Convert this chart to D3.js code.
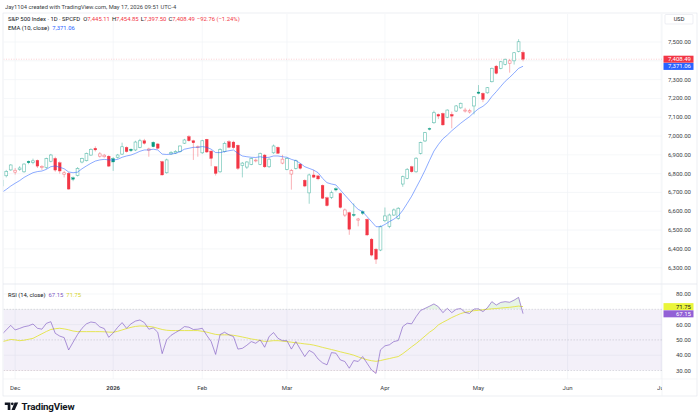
<!DOCTYPE html>
<html>
<head>
<meta charset="utf-8">
<script src="https://cdn.jsdelivr.net/npm/d3@7"></script>
<style>
body{margin:0;background:#fff}
svg{display:block;font-family:Roboto,"Liberation Sans",sans-serif}
</style>
</head>
<body>
<svg width="700" height="420"></svg>
<script>
// trading calendar (categories)
var firstDay = "2025-11-25", lastDay = "2026-07-03";
var holidays = ["2025-11-27","2025-12-25","2026-01-01","2026-01-19","2026-02-16","2026-04-03","2026-05-25","2026-06-19"];
var monthTicks = [
  {day:"2025-12-01", label:"Dec"}, {day:"2026-01-01", label:"2026", bold:true},
  {day:"2026-02-01", label:"Feb"}, {day:"2026-03-01", label:"Mar"},
  {day:"2026-04-01", label:"Apr"}, {day:"2026-05-01", label:"May"},
  {day:"2026-06-01", label:"Jun"}, {day:"2026-07-01", label:"Jul"}
];
var priceTicks = [6200,6300,6400,6500,6600,6700,6800,6900,7000,7100,7200,7300,7400,7500];
var rsiTicks = [30,40,50,60,70,80];

// daily bars, Nov 25 2025 .. May 15 2026
var open = [6735,6789,6820,6808,6822,6810,6866,6860,6871,6832,
  6832,6866,6881,6858,6797,6802,6778,6790,6862,6869,
  6899,6935,6893,6890,6893,6880,6887,6904,6940,6930,
  6926,6940,6975,6925,6967,6958,6864,6805,6905,6910,
  6917,6962,6997,6975,6940,6911,6983,6920,6837,6810,
  6917,6970,6968,6951,6843,6835,6849,6868,6849,6899,
  6837,6911,6940,6856,6823,6798,6828,6851,6765,6698,
  6793,6788,6738,6672,6674,6720,6695,6580,6593,6583,
  6553,6598,6557,6452,6398,6394,6550,6520,6580,6562,
  6745,6775,6837,6810,6908,6974,7040,7071,7115,7120,
  7100,7115,7133,7150,7133,7128,7160,7234,7227,7230,
  7289,7372,7360,7381,7387,7400,7450,7445.11];
var high = [6780,6820,6850,6830,6840,6855,6870,6880,6875,6845,
  6885,6905,6890,6865,6815,6808,6785,6835,6885,6912,
  6935,6945,6915,6905,6898,6888,6905,6965,6945,6935,
  6975,6985,6985,6938,6972,6962,6868,6880,6920,6925,
  6950,6985,7005,6980,6950,6980,6985,6925,6840,6935,
  6970,6978,6975,6955,6862,6866,6885,6880,6912,6905,
  6882,6955,6945,6900,6885,6825,6875,6856,6770,6800,
  6820,6795,6742,6678,6710,6728,6700,6615,6598,6642,
  6565,6605,6562,6458,6405,6525,6620,6588,6615,6622,
  6790,6830,6842,6888,6970,7022,7045,7135,7120,7125,
  7142,7130,7165,7178,7150,7145,7212,7271,7232,7260,
  7364,7378,7398,7412,7410,7446,7515,7454.85];
var low = [6720,6780,6815,6795,6815,6805,6850,6850,6830,6820,
  6825,6860,6810,6800,6780,6715,6760,6785,6855,6865,
  6895,6918,6885,6885,6835,6815,6880,6900,6912,6915,
  6920,6935,6955,6890,6940,6930,6790,6800,6900,6905,
  6912,6958,6970,6873,6890,6905,6910,6840,6790,6805,
  6912,6935,6932,6820,6780,6825,6845,6860,6845,6830,
  6830,6905,6905,6850,6818,6715,6822,6822,6728,6640,
  6776,6765,6665,6625,6665,6705,6615,6570,6475,6570,
  6520,6580,6468,6360,6320,6388,6542,6510,6575,6555,
  6730,6770,6805,6805,6902,6968,7030,7065,7090,7055,
  7095,7041,7128,7145,7125,7120,7115,7222,7180,7225,
  7285,7328,7355,7376,7337,7380,7445,7397.50];
var close = [6765,6812,6846,6818,6830,6851,6858,6868,6840,6838,
  6880,6899,6819,6814,6805,6718,6770,6828,6880,6908,
  6929,6926,6905,6898,6840,6862,6899,6943,6917,6922,
  6968,6975,6961,6931,6943,6935,6793,6873,6912,6918,
  6947,6979,6975,6964,6943,6975,6915,6881,6801,6929,
  6961,6940,6938,6828,6856,6862,6880,6872,6908,6836,
  6877,6947,6908,6877,6880,6816,6869,6828,6734,6793,
  6781,6772,6669,6630,6699,6713,6620,6607,6504,6578,
  6559,6589,6474,6367,6345,6518,6575,6580,6607,6616,
  6784,6823,6810,6882,6965,7018,7036,7124,7106,7059,
  7138,7106,7160,7174,7138,7135,7209,7227,7195,7257,
  7360,7333,7395,7408,7400,7443,7501.25,7408.49];
var ema10 = [6700,6716,6734,6749,6763,6780,6793,6805,6811,6814,
  6823,6837,6841,6834,6826,6809,6805,6808,6826,6841,
  6855,6867,6873,6876,6873,6872,6876,6887,6894,6899,
  6908,6919,6926,6926,6930,6926,6904,6902,6904,6908,
  6917,6930,6935,6940,6940,6944,6940,6930,6912,6912,
  6917,6922,6926,6908,6894,6890,6887,6886,6890,6885,
  6887,6894,6894,6890,6887,6876,6869,6855,6837,6828,
  6819,6805,6775,6752,6745,6740,6713,6686,6660,6633,
  6610,6598,6571,6545,6518,6518,6530,6545,6558,6575,
  6605,6642,6680,6725,6770,6818,6870,6920,6955,6985,
  7005,7028,7048,7068,7086,7103,7125,7145,7158,7178,
  7210,7236,7264,7291,7312,7335,7360,7371.06];
var rsi14 = [53.5,56.5,59.5,56.5,57.5,58.6,59.2,60.4,57.6,57,
  60.8,61.9,54.3,52.5,51.5,43.4,48.5,53.5,57.6,60.5,
  61.7,61.2,58.5,57.4,51.7,54.5,58.2,61.3,57.6,60.5,
  62.3,63,61.3,57,57.8,55,41,50,53,54.8,
  56.5,58.7,58.3,56.8,57,57.6,53,48.9,40.5,53.5,
  55,53.3,52.2,44,44.5,46.5,48.9,47.8,50,45.2,
  52.2,54.8,51,49.5,49.5,44,48.9,43.9,39.1,43.1,
  41.5,37.5,35,33.7,41.7,41.3,36.9,35.9,31.5,36.5,
  35.9,39.1,34.7,30.3,28.1,43.5,46.1,46.8,48.9,49.6,
  58.7,60.9,60.5,65.2,69.2,70.6,72,73.5,71.7,67.8,
  70.6,67.8,70,70.5,68,67.3,70.2,70.3,68.5,71,
  75,72.8,74.5,75,74.6,76,77.8,67.15];
var rsiMa = [48.8,49.5,50.3,50.0,49.5,49.8,50.4,51.0,52.5,54.0,
  55.5,56.8,57.3,57.6,57.2,56.6,55.8,55.4,55.4,55.4,
  55.4,55.4,55.4,55.3,55.1,55.0,55.6,56.5,57.4,58.2,
  58.8,59.1,59.0,58.8,58.4,57.6,56.8,56.3,56.1,56.1,
  56.1,56.1,56.1,56.1,56.1,55.6,55.1,54.3,53.6,53.3,
  53.3,53.3,53.0,52.5,51.9,51.3,50.6,50.2,49.6,49.0,
  49.2,49.5,49.5,49.2,48.9,48.5,48.1,47.8,47.4,47.1,
  46.6,45.9,45.1,44.4,43.7,43.0,42.2,41.5,40.8,40.0,
  38.9,37.9,37.0,36.4,36.0,36.5,37.2,37.8,38.5,39.1,
  41.0,43.2,45.5,47.6,50.0,52.5,55.0,57.0,59.8,61.5,
  63.0,64.6,65.9,67.2,68.0,68.6,69.1,69.3,69.7,70.0,
  70.3,70.5,70.8,71.1,71.3,71.7,72.1,71.75];

var UP = "#089981", DOWN = "#f23645", EMA_C = "#2962ff", RSI_C = "#7e57c2", MA_C = "#e3e342";
var TXT = "#131722", GRID = "#f1f3f7", BORDER = "#e0e3eb";

var fmtDay = d3.utcFormat("%Y-%m-%d"), parseDay = d3.utcParse("%Y-%m-%d");
var days = d3.utcDay.range(parseDay(firstDay), d3.utcDay.offset(parseDay(lastDay), 1))
  .filter(d => d.getUTCDay() % 6 !== 0 && holidays.indexOf(fmtDay(d)) < 0)
  .map(fmtDay);

var plotL = 3.5, plotR = 662, mainTop = 14, mainBot = 283.5, rsiTop = 284.5, rsiBot = 379;
var step = 4.455;

var x = d3.scaleLinear().domain([0, days.length - 1]).range([1.8, 1.8 + step * (days.length - 1)]);
var y = d3.scaleLinear().domain([6300, 7500]).range([267.7, 42]);
var yr = d3.scaleLinear().domain([30, 80]).range([370.5, 294]);

var bars = close.map((c, i) => ({
  i: i, o: open[i], h: high[i], l: low[i], c: c, e: ema10[i], r: rsi14[i], m: rsiMa[i],
  prev: i > 0 ? close[i - 1] : open[i]
}));
var last = bars[bars.length - 1];

var svg = d3.select("svg");
var defs = svg.append("defs");
defs.append("clipPath").attr("id", "clipMain").append("rect")
  .attr("x", plotL).attr("y", mainTop).attr("width", plotR - plotL).attr("height", mainBot - mainTop);
defs.append("clipPath").attr("id", "clipRsi").append("rect")
  .attr("x", plotL).attr("y", rsiTop).attr("width", plotR - plotL).attr("height", rsiBot - rsiTop);
defs.append("clipPath").attr("id", "clipOb").append("rect")
  .attr("x", plotL).attr("y", rsiTop).attr("width", plotR - plotL).attr("height", yr(70) - rsiTop);
defs.append("clipPath").attr("id", "clipOs").append("rect")
  .attr("x", plotL).attr("y", yr(30)).attr("width", plotR - plotL).attr("height", rsiBot - yr(30));
defs.append("clipPath").attr("id", "clipAxis").append("rect")
  .attr("x", plotR).attr("y", mainTop).attr("width", 700 - plotR).attr("height", mainBot - mainTop + 1);
defs.append("clipPath").attr("id", "clipTime").append("rect")
  .attr("x", plotL).attr("y", rsiBot).attr("width", plotR - plotL).attr("height", 17);

// header
svg.append("text").attr("x", 5).attr("y", 8.5).attr("font-size", 5.8).attr("fill", TXT).attr("opacity", 0.85)
  .text("Jay1104 created with TradingView.com, May 17, 2026 09:51 UTC-4");

// frame
svg.append("rect").attr("x", 3).attr("y", 13).attr("width", 694).attr("height", 383)
  .attr("fill", "none").attr("stroke", BORDER).attr("stroke-width", 0.6);

// month positions
var ticks = monthTicks.map(t => {
  var idx = days.findIndex(d => d >= t.day);
  return Object.assign({x: x(idx)}, t);
});

// grid
var grid = svg.append("g").attr("stroke", GRID).attr("stroke-width", 0.7);
grid.selectAll(".v").data(ticks).join("line")
  .attr("x1", d => d.x).attr("x2", d => d.x).attr("y1", mainTop).attr("y2", rsiBot);
grid.append("g").attr("clip-path", "url(#clipMain)").selectAll("line").data(priceTicks).join("line")
  .attr("x1", plotL).attr("x2", plotR).attr("y1", d => y(d)).attr("y2", d => y(d));
grid.selectAll(".r").data([40, 60, 80]).join("line")
  .attr("x1", plotL).attr("x2", plotR).attr("y1", d => yr(d)).attr("y2", d => yr(d));

// pane separators
svg.append("line").attr("x1", 3).attr("x2", 697).attr("y1", 284).attr("y2", 284)
  .attr("stroke", BORDER).attr("stroke-width", 0.7);
svg.append("line").attr("x1", plotR).attr("x2", plotR).attr("y1", mainTop).attr("y2", 396)
  .attr("stroke", "#eef0f4").attr("stroke-width", 0.7);
svg.append("line").attr("x1", 3).attr("x2", 697).attr("y1", rsiBot).attr("y2", rsiBot)
  .attr("stroke", "#eef0f4").attr("stroke-width", 0.6);

// main pane
var main = svg.append("g").attr("clip-path", "url(#clipMain)");

main.append("line").attr("x1", plotL).attr("x2", plotR).attr("y1", y(last.c)).attr("y2", y(last.c))
  .attr("stroke", DOWN).attr("stroke-opacity", 0.4).attr("stroke-width", 0.6).attr("stroke-dasharray", "1,1.5");

var candle = main.selectAll(".candle").data(bars).join("g").attr("class", "candle");
candle.append("line")
  .attr("x1", d => x(d.i)).attr("x2", d => x(d.i))
  .attr("y1", d => y(d.h)).attr("y2", d => y(d.l))
  .attr("stroke", d => d.c >= d.prev ? UP : DOWN).attr("stroke-opacity", 0.55).attr("stroke-width", 0.7);
candle.append("rect")
  .attr("x", d => x(d.i) - 1.4).attr("width", 2.8)
  .attr("y", d => y(Math.max(d.o, d.c)))
  .attr("height", d => Math.max(0.8, Math.abs(y(d.o) - y(d.c))))
  .attr("fill", d => d.c > d.o ? "#fff" : (d.c >= d.prev ? UP : DOWN))
  .attr("stroke", d => d.c >= d.prev ? UP : DOWN)
  .attr("stroke-opacity", d => d.c > d.o ? 0.55 : 1)
  .attr("stroke-width", d => d.c > d.o ? 0.7 : 0.3);

main.append("path").datum(bars)
  .attr("fill", "none").attr("stroke", EMA_C).attr("stroke-opacity", 0.6).attr("stroke-width", 0.9)
  .attr("d", d3.line().x(d => x(d.i)).y(d => y(d.e)));

// last-value tags on the price scale
var yPriceTag = y(last.c), yEmaTag = Math.max(y(last.e), yPriceTag + 7.2);

// price axis (labels hidden where a tag covers them)
var pAxis = svg.append("g").attr("clip-path", "url(#clipAxis)");
pAxis.selectAll("text")
  .data(priceTicks.filter(t => Math.abs(y(t) - yPriceTag) > 6 && Math.abs(y(t) - yEmaTag) > 6))
  .join("text")
  .attr("x", 691).attr("y", d => y(d) + 2).attr("text-anchor", "end")
  .attr("font-size", 6).attr("fill", TXT).attr("opacity", 0.85)
  .text(d => d3.format(",.2f")(d));

svg.append("rect").attr("x", 665).attr("y", 14.5).attr("width", 28).attr("height", 9.5).attr("rx", 1)
  .attr("fill", "#fff").attr("stroke", BORDER).attr("stroke-width", 0.6);
svg.append("text").attr("x", 679).attr("y", 21.3).attr("text-anchor", "middle")
  .attr("font-size", 5.6).attr("fill", TXT).text("USD");

function valueTag(yy, color, textColor, label) {
  svg.append("rect").attr("x", 663.5).attr("y", yy - 3.5).attr("width", 30).attr("height", 7)
    .attr("fill", color);
  svg.append("text").attr("x", 691).attr("y", yy + 2).attr("text-anchor", "end")
    .attr("font-size", 6).attr("fill", textColor).text(label);
}
valueTag(yPriceTag, DOWN, "#fff", d3.format(",.2f")(last.c));
valueTag(yEmaTag, EMA_C, "#fff", d3.format(",.2f")(last.e));

// legends
var change = last.c - last.prev, pct = change / last.prev * 100;
var minus = v => (v < 0 ? "\u2212" : "+") + d3.format(",.2f")(Math.abs(v));
var leg1 = svg.append("text").attr("x", 8).attr("y", 21.2).attr("font-size", 5.9);
[["S&P 500 Index \u00b7 1D \u00b7 SPCFD", TXT, 0],
 ["O", TXT, 3], [d3.format(",.2f")(last.o), DOWN, 0],
 ["H", TXT, 2], [d3.format(",.2f")(last.h), DOWN, 0],
 ["L", TXT, 2], [d3.format(",.2f")(last.l), DOWN, 0],
 ["C", TXT, 2], [d3.format(",.2f")(last.c), DOWN, 0],
 [minus(change) + " (" + minus(pct) + "%)", DOWN, 2]
].forEach(s => leg1.append("tspan").attr("dx", s[2]).attr("fill", s[1]).text(s[0]));
var leg2 = svg.append("text").attr("x", 8).attr("y", 29.8).attr("font-size", 5.9);
leg2.append("tspan").attr("fill", TXT).text("EMA (10, close)");
leg2.append("tspan").attr("dx", 3).attr("fill", EMA_C).text(d3.format(",.2f")(last.e));

// RSI pane
var rp = svg.append("g").attr("clip-path", "url(#clipRsi)");
rp.append("rect").attr("x", plotL).attr("width", plotR - plotL)
  .attr("y", yr(70)).attr("height", yr(30) - yr(70)).attr("fill", RSI_C).attr("fill-opacity", 0.09);
rp.selectAll(".lvl").data([70, 50, 30]).join("line")
  .attr("x1", plotL).attr("x2", plotR).attr("y1", d => yr(d)).attr("y2", d => yr(d))
  .attr("stroke", "#9598a1").attr("stroke-opacity", 0.6).attr("stroke-width", 0.5).attr("stroke-dasharray", "1.5,1.5");

rp.append("g").attr("clip-path", "url(#clipOb)").append("path").datum(bars)
  .attr("fill", "#4caf50").attr("fill-opacity", 0.14)
  .attr("d", d3.area().x(d => x(d.i)).y0(yr(70)).y1(d => yr(d.r)));
rp.append("g").attr("clip-path", "url(#clipOs)").append("path").datum(bars)
  .attr("fill", DOWN).attr("fill-opacity", 0.14)
  .attr("d", d3.area().x(d => x(d.i)).y0(yr(30)).y1(d => yr(d.r)));

rp.append("path").datum(bars)
  .attr("fill", "none").attr("stroke", MA_C).attr("stroke-width", 0.9)
  .attr("d", d3.line().x(d => x(d.i)).y(d => yr(d.m)));
rp.append("path").datum(bars)
  .attr("fill", "none").attr("stroke", RSI_C).attr("stroke-opacity", 0.7).attr("stroke-width", 0.9)
  .attr("d", d3.line().x(d => x(d.i)).y(d => yr(d.r)));

var tagMa = yr(last.m), tagRsi = Math.max(yr(last.r), tagMa + 7.2);
svg.selectAll(".rt").data(rsiTicks.filter(t => Math.abs(yr(t) - tagMa) > 6 && Math.abs(yr(t) - tagRsi) > 6))
  .join("text")
  .attr("x", 691).attr("y", d => yr(d) + 2).attr("text-anchor", "end")
  .attr("font-size", 6).attr("fill", TXT).attr("opacity", 0.85)
  .text(d => d3.format(".2f")(d));
svg.append("rect").attr("x", 663.5).attr("y", tagMa - 3.5).attr("width", 30).attr("height", 7).attr("fill", "#eaf53a");
svg.append("text").attr("x", 691).attr("y", tagMa + 2).attr("text-anchor", "end").attr("font-size", 6)
  .attr("fill", TXT).text(d3.format(".2f")(last.m));
svg.append("rect").attr("x", 663.5).attr("y", tagRsi - 3.5).attr("width", 30).attr("height", 7).attr("fill", "#9260d6");
svg.append("text").attr("x", 691).attr("y", tagRsi + 2).attr("text-anchor", "end").attr("font-size", 6)
  .attr("fill", "#fff").text(d3.format(".2f")(last.r));

var leg3 = svg.append("text").attr("x", 8).attr("y", 296.5).attr("font-size", 5.9);
leg3.append("tspan").attr("fill", TXT).text("RSI (14, close)");
leg3.append("tspan").attr("dx", 3).attr("fill", RSI_C).text(d3.format(".2f")(last.r));
leg3.append("tspan").attr("dx", 3).attr("fill", "#d4d42a").text(d3.format(".2f")(last.m));

// time axis
svg.append("g").attr("clip-path", "url(#clipTime)").selectAll("text").data(ticks).join("text")
  .attr("x", d => d.x).attr("y", 390).attr("text-anchor", "middle")
  .attr("font-size", 6).attr("fill", TXT).attr("opacity", 0.85)
  .attr("font-weight", d => d.bold ? "bold" : null)
  .text(d => d.label);

// logo
var logo = svg.append("g").attr("fill", TXT);
logo.append("path").attr("d", "M4.8,402.4h5.6v7.6h-2.7v-5h-2.9z");
logo.append("circle").attr("cx", 12.3).attr("cy", 403.8).attr("r", 1.4);
logo.append("path").attr("d", "M14.6,402.4h3.6l-3.4,7.6h-3.3z");
svg.append("text").attr("x", 21.5).attr("y", 410).attr("font-size", 9.8).attr("font-weight", "bold")
  .attr("fill", TXT).attr("letter-spacing", -0.2).text("TradingView");
</script>
</body>
</html>
